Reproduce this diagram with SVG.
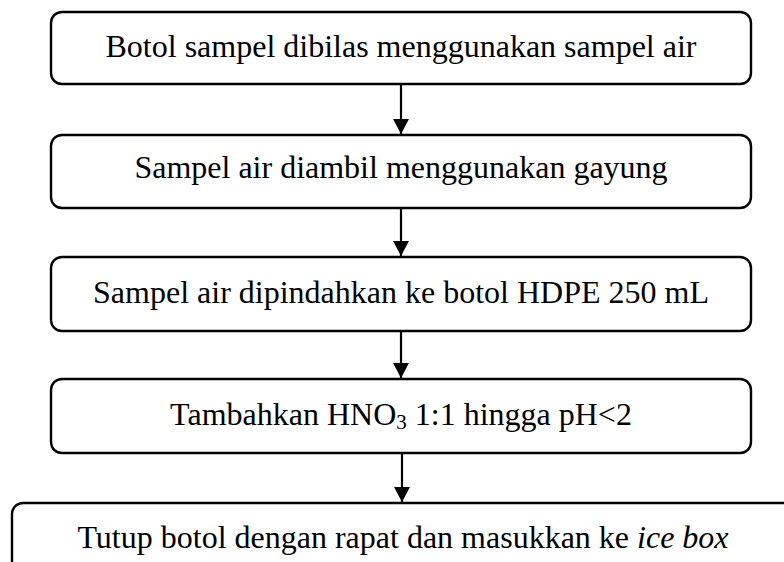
<svg xmlns="http://www.w3.org/2000/svg" width="784" height="562" viewBox="0 0 784 562">
<defs>
<style>
.box{fill:#fff;stroke:#000;stroke-width:2.4}
.lbl{font-family:"Liberation Serif","Times New Roman",serif;font-size:32px;fill:#000;text-anchor:middle}
.con{stroke:#000;stroke-width:2.2;fill:none}
</style>
<marker id="ah" markerWidth="15" markerHeight="16" refX="15" refY="8" orient="auto" markerUnits="userSpaceOnUse" viewBox="0 0 15 16">
<path d="M0,0 L15,8 L0,16 Z" fill="#000"/>
</marker>
</defs>
<rect width="784" height="562" fill="#fff"/>
<g id="connectors">
<line class="con" x1="401" y1="84" x2="401" y2="134" marker-end="url(#ah)"/>
<line class="con" x1="401" y1="208" x2="401" y2="256" marker-end="url(#ah)"/>
<line class="con" x1="401" y1="331" x2="401" y2="378" marker-end="url(#ah)"/>
<line class="con" x1="402" y1="453" x2="402" y2="502" marker-end="url(#ah)"/>
</g>
<g id="n1">
<rect class="box" x="51" y="12" width="700" height="72" rx="11"/>
<text class="lbl" x="401" y="57">Botol sampel dibilas menggunakan sampel air</text>
</g>
<g id="n2">
<rect class="box" x="51" y="135" width="700" height="73" rx="11"/>
<text class="lbl" x="401" y="178">Sampel air diambil menggunakan gayung</text>
</g>
<g id="n3">
<rect class="box" x="51" y="257" width="700" height="74" rx="11"/>
<text class="lbl" x="401" y="303">Sampel air dipindahkan ke botol HDPE 250 mL</text>
</g>
<g id="n4">
<rect class="box" x="51" y="379" width="700" height="74" rx="11"/>
<text class="lbl" x="401" y="425">Tambahkan HNO<tspan font-size="21" dy="4">3</tspan><tspan dy="-4"> 1:1 hingga pH&lt;2</tspan></text>
</g>
<g id="n5">
<rect class="box" x="12" y="503" width="820" height="100" rx="11"/>
<text class="lbl" x="403" y="548">Tutup botol dengan rapat dan masukkan ke <tspan font-style="italic">ice box</tspan></text>
</g>
</svg>
